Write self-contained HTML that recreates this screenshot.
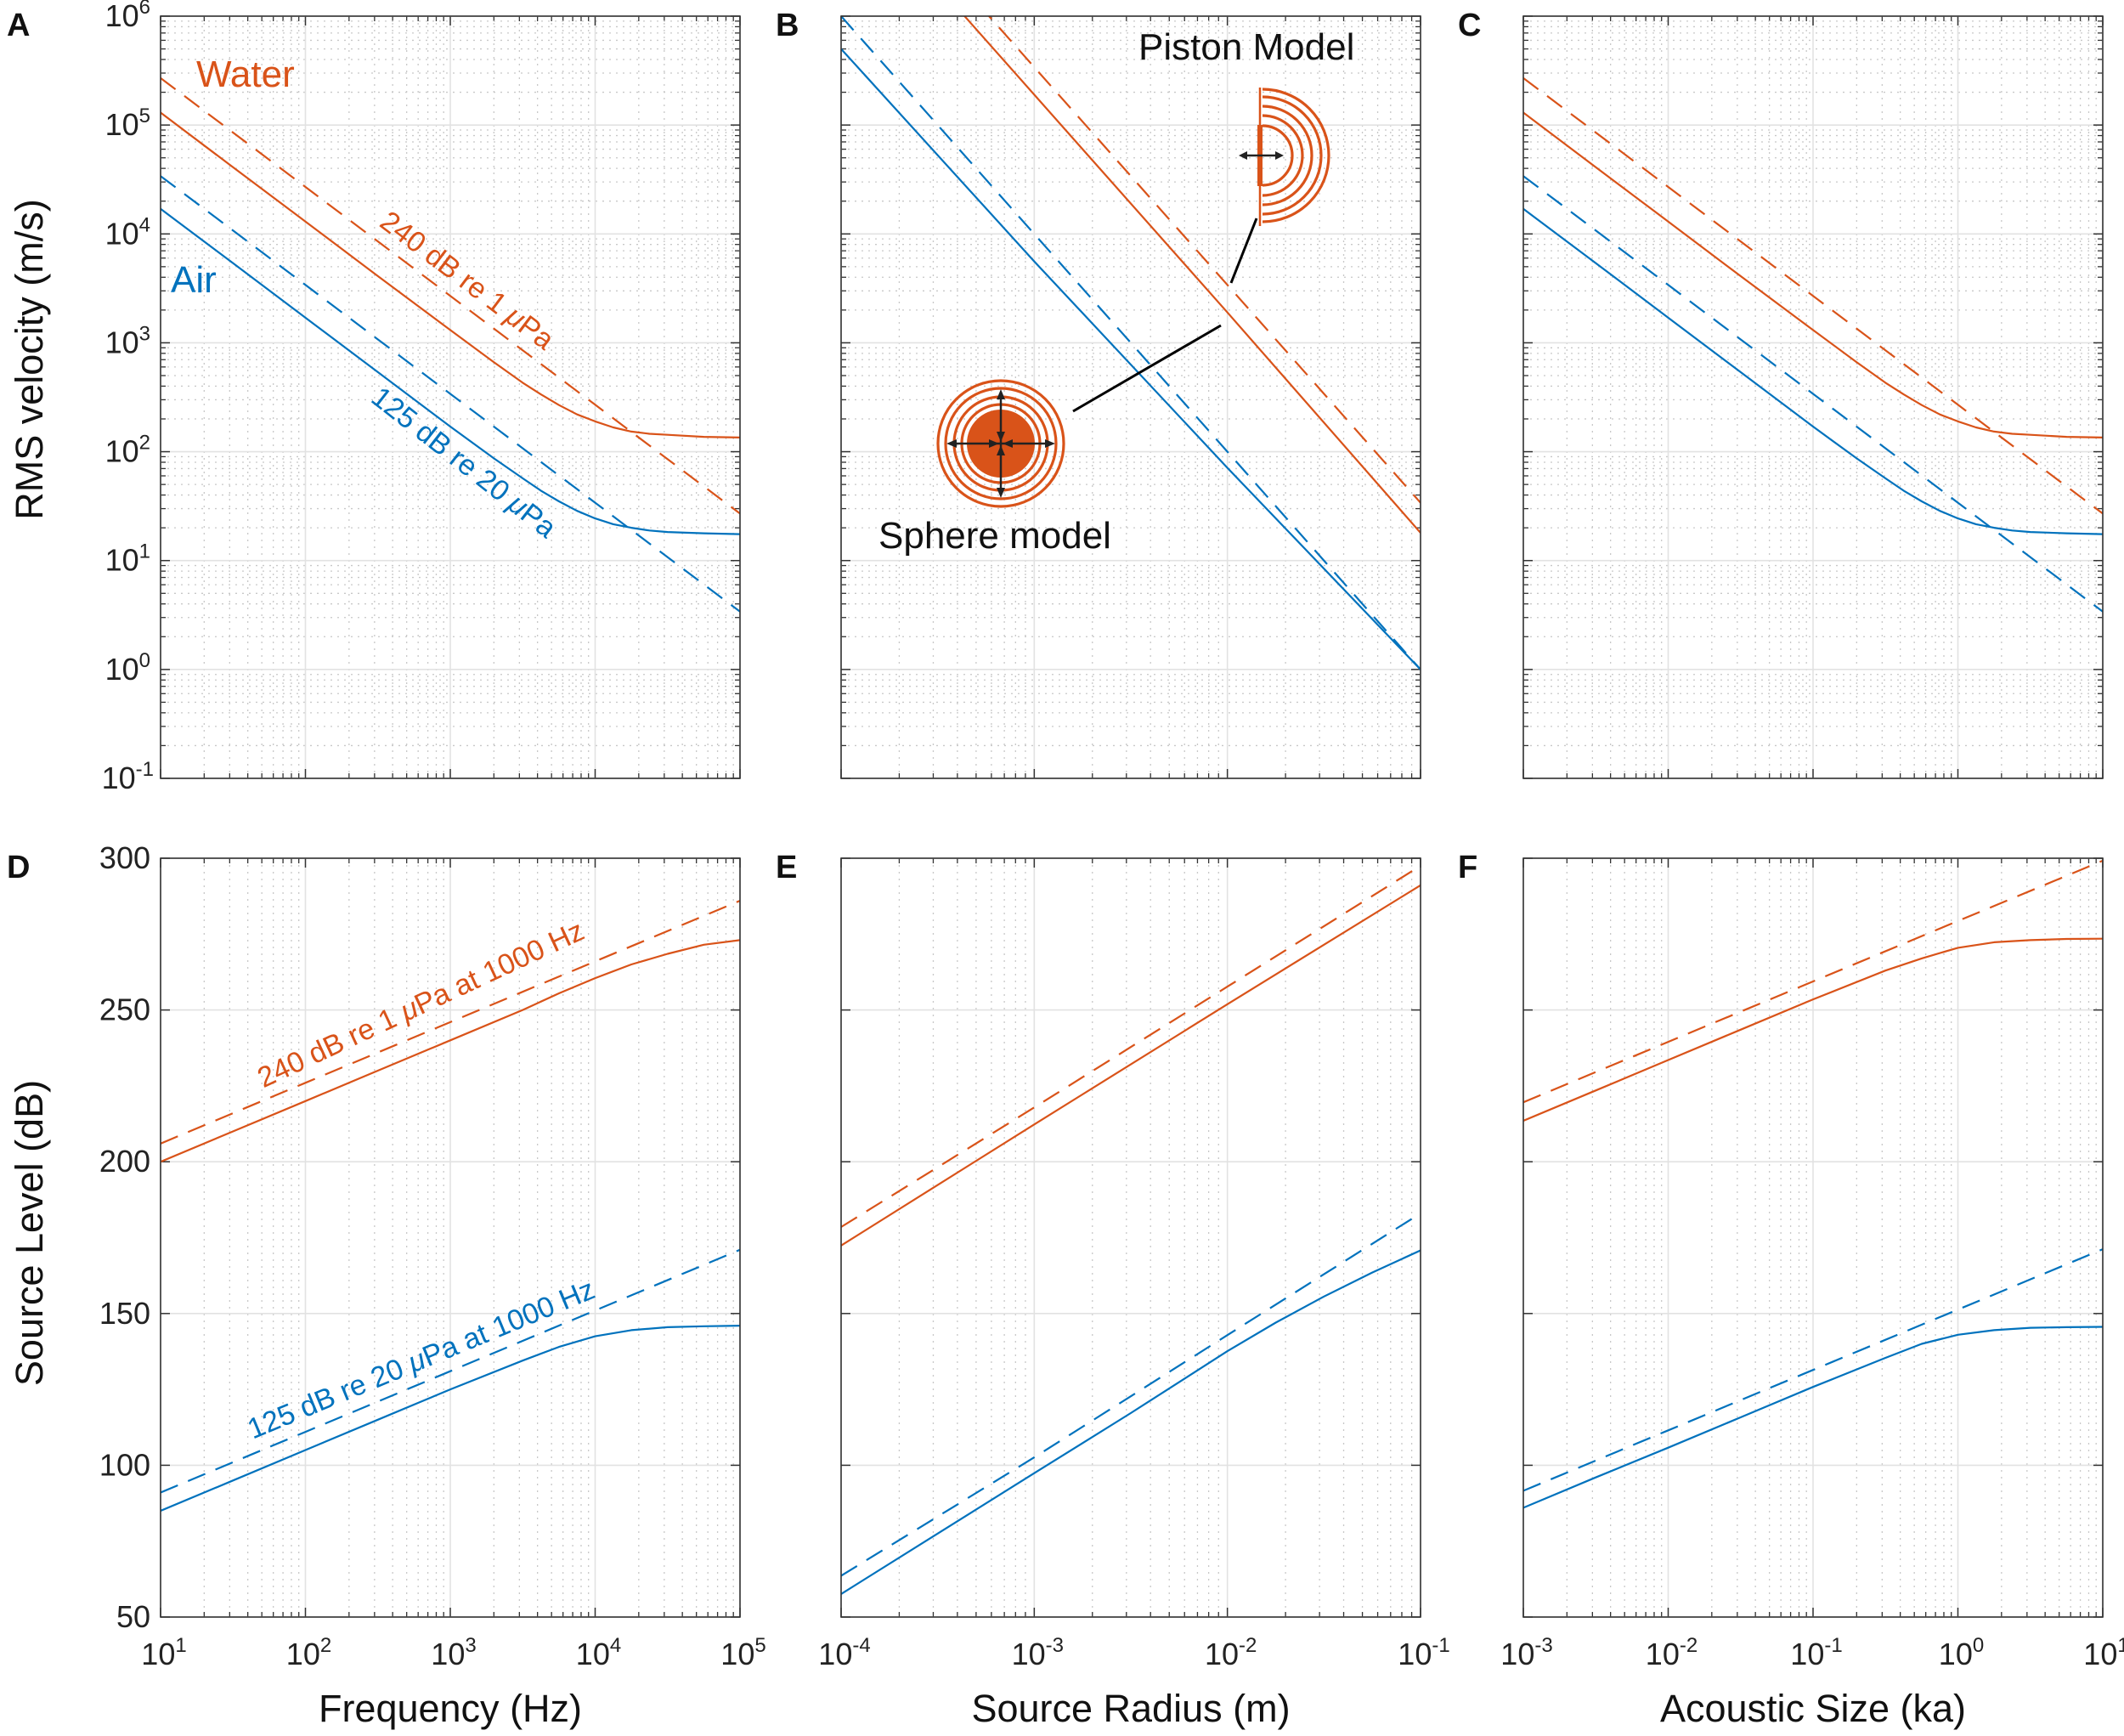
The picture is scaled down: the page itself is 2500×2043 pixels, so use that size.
<!DOCTYPE html>
<html><head><meta charset="utf-8"><style>
html,body{margin:0;padding:0;background:#fff}
svg{display:block;font-family:"Liberation Sans",Arial,sans-serif}
</style></head><body>
<svg id="fig" width="2500" height="2043" viewBox="0 0 2500 2043" xmlns="http://www.w3.org/2000/svg"></svg>
<script>
// ---------- DATA ----------
const freqA = [10,31.6,100,316,1000,2000,3162,4217,5623,7499,10000,13335,17783,23714,31623,56234,100000];
const freqDecA = [10,100,1000,10000,100000];
const waterSolidA = [1.3e5,4.1e4,1.3e4,4.1e3,1.31e3,664,430,336,268,220,190,167,153,146,143,137,135];
const waterDashA = [2.7e5,2.7e4,2.7e3,270,27];
const airSolidA = [1.7e4,5.4e3,1.7e3,538,170,86.8,57,43.9,35,28.6,24.4,21.6,20,18.9,18.3,17.8,17.5];
const airDashA = [3.4e4,3.4e3,340,34,3.4];

const radiusB = [1e-4,1e-3,1e-2,1e-1];
const waterSolidB = [1.9e7,1.9e5,1.9e3,18];
const waterDashB = [3.4e7,3.4e5,3.4e3,34];
const airSolidB = [5e5,5.6e3,71,1.0];
const airDashB = [1e6,1e4,100,1];

const kaC = [1e-3,3.16e-3,1e-2,3.16e-2,0.1,0.2,0.316,0.4217,0.5623,0.7499,1,1.3335,1.7783,2.3714,3.1623,5.6234,10];
const kaDecC = [1e-3,1e-2,1e-1,1,10];
const waterSolidC = [1.3e5,4.1e4,1.3e4,4.1e3,1.31e3,664,430,336,268,220,190,167,153,146,143,137,135];
const waterDashC = [2.7e5,2.7e4,2.7e3,270,27];
const airSolidC = [1.7e4,5.4e3,1.7e3,538,170,86.8,57,43.9,35,28.6,24.4,21.6,20,18.9,18.3,17.8,17.5];
const airDashC = [3.4e4,3.4e3,340,34,3.4];

const freqD = [10,31.6,100,316,1000,3162,5623,10000,17783,31623,56234,100000];
const freqDecD = [10,100,1000,10000,100000];
const waterSolidD = [200,210,220,230,240,250,255.5,260.5,265,268.5,271.5,273];
const waterDashD = [206,226,246,266,286];
const airSolidD = [85,95,105,115,125,134.5,139,142.5,144.5,145.5,145.8,146];
const airDashD = [91,111,131,151,171];

const radiusE = [1e-4,3.16e-4,1e-3,3.16e-3,1e-2,1.78e-2,3.16e-2,5.62e-2,1e-1];
const radiusDecE = [1e-4,1e-3,1e-2,1e-1];
const waterSolidE = [172.4,212.3,251.9,291.1];
const waterDashE = [178.5,217.9,257.7,297.5];
const airSolidE = [57.6,77.5,97.4,117.2,137.6,147,155.6,163.5,170.8];
const airDashE = [63.6,102.6,142.9,183];

const kaF = [1e-3,3.16e-3,1e-2,3.16e-2,0.1,0.316,0.5623,1,1.778,3.16,5.623,10];
const kaDecF = [1e-3,1e-2,1e-1,1,10];
const waterSolidF = [213.5,223.5,233.5,243.5,253.5,263,267,270.5,272.3,273,273.4,273.5];
const waterDashF = [219.6,239.5,259.4,279.3,299.2];
const airSolidF = [86,96,105.8,115.8,125.8,135.4,140,143,144.5,145.3,145.5,145.6];
const airDashF = [91.6,111.5,131.4,151.3,171.2];

const yTicksTop = [-1,0,1,2,3,4,5,6];
const yTicksBottom = [50,100,150,200,250,300];
const xTicksA = [1,2,3,4,5];
const xTicksB = [-4,-3,-2,-1];
const xTicksC = [-3,-2,-1,0,1];

// ---------- DRAWING ----------
const NS = "http://www.w3.org/2000/svg";
const svg = document.getElementById('fig');
const WATER = "#d95319", AIR = "#0072bd";
function mk(tag, attrs, parent){
  const e = document.createElementNS(NS, tag);
  for (const k in attrs) e.setAttribute(k, attrs[k]);
  (parent||svg).appendChild(e);
  return e;
}
const cols = [189, 990, 1793];
const W = 682;
const rows = [{top:19,bot:916},{top:1010,bot:1903}];

function panel(id, col, row, xr, yr, ylog, series, xTicks, yTicks, showY, showX){
  const L = cols[col], R = L + W, T = rows[row].top, B = rows[row].bot;
  const g = mk('g', {});
  
  
  const sx = v => L + (Math.log10(v) - xr[0]) / (xr[1] - xr[0]) * W;
  const sy = ylog ? (v => B - (Math.log10(v) - yr[0]) / (yr[1] - yr[0]) * (B - T))
                  : (v => B - (v - yr[0]) / (yr[1] - yr[0]) * (B - T));
  for (let d = xr[0]; d < xr[1]; d++) for (let m = 2; m <= 9; m++) {
    const x = sx(m * Math.pow(10, d));
    mk('line', {x1:x, x2:x, y1:T, y2:B, stroke:'#c8c8c8', 'stroke-width':1.3, 'stroke-dasharray':'2,6'}, g);
    mk('line', {x1:x, x2:x, y1:B, y2:B-6, stroke:'#333', 'stroke-width':1.3}, g);
    mk('line', {x1:x, x2:x, y1:T, y2:T+6, stroke:'#333', 'stroke-width':1.3}, g);
  }
  if (ylog) for (let d = yr[0]; d < yr[1]; d++) for (let m = 2; m <= 9; m++) {
    const y = sy(m * Math.pow(10, d));
    mk('line', {x1:L, x2:R, y1:y, y2:y, stroke:'#c8c8c8', 'stroke-width':1.3, 'stroke-dasharray':'2,6'}, g);
    mk('line', {x1:L, x2:L+6, y1:y, y2:y, stroke:'#333', 'stroke-width':1.3}, g);
    mk('line', {x1:R, x2:R-6, y1:y, y2:y, stroke:'#333', 'stroke-width':1.3}, g);
  }
  for (let d = Math.ceil(xr[0]); d <= xr[1]; d++) {
    const x = sx(Math.pow(10, d));
    mk('line', {x1:x, x2:x, y1:T, y2:B, stroke:'#e2e2e2', 'stroke-width':1.6}, g);
    mk('line', {x1:x, x2:x, y1:B, y2:B-11, stroke:'#333', 'stroke-width':1.5}, g);
    mk('line', {x1:x, x2:x, y1:T, y2:T+11, stroke:'#333', 'stroke-width':1.5}, g);
  }
  yTicks.forEach(t => {
    const y = ylog ? sy(Math.pow(10, t)) : sy(t);
    mk('line', {x1:L, x2:R, y1:y, y2:y, stroke:'#e2e2e2', 'stroke-width':1.6}, g);
    mk('line', {x1:L, x2:L+11, y1:y, y2:y, stroke:'#333', 'stroke-width':1.5}, g);
    mk('line', {x1:R, x2:R-11, y1:y, y2:y, stroke:'#333', 'stroke-width':1.5}, g);
    if (showY) {
      const tx = mk('text', {x:L-12, y:y+12, 'text-anchor':'end', 'font-size':36, fill:'#222'}, g);
      
      
      if (ylog) {
        tx.appendChild(document.createTextNode('10'));
        const sp = mk('tspan', {dy:-15, 'font-size':24}, tx);
        sp.textContent = String(t);
        if (t < 0) tx.setAttribute('x', L - 8);
      } else tx.textContent = String(t);
    }
  });
  if (showX) xTicks.forEach(t => {
    const x = sx(Math.pow(10, t));
    const tx = mk('text', {x:x+4, y:B+56, 'text-anchor':'middle', 'font-size':36, fill:'#222'}, g);
    
    
    tx.appendChild(document.createTextNode('10'));
    const sp = mk('tspan', {dy:-15, 'font-size':24}, tx);
    sp.textContent = String(t);
  });
  const cp = mk('clipPath', {id:'clip' + id}, g);
  mk('rect', {x:L, y:T, width:W, height:B-T}, cp);
  const sg = mk('g', {'clip-path':'url(#clip' + id + ')'}, g);
  series.forEach(s => {
    const d = s.x.map((xv, i) => (i ? 'L' : 'M') + sx(xv).toFixed(1) + ',' + sy(s.y[i]).toFixed(1)).join(' ');
    const p = mk('path', {d:d, fill:'none', stroke:s.c, 'stroke-width':2.2, 'stroke-linejoin':'round'}, sg);
    if (s.dash) p.setAttribute('stroke-dasharray', '22,13');
    
    
  });
  const box = mk('rect', {x:L, y:T, width:W, height:B-T, fill:'none', stroke:'#333', 'stroke-width':1.6}, g);
  
  
}

panel('A', 0, 0, [1,5], [-1,6], true, [
  {x:freqA, y:waterSolidA, c:WATER, name:'water-sphere-line'},
  {x:freqDecA, y:waterDashA, c:WATER, dash:1, name:'water-piston-line'},
  {x:freqA, y:airSolidA, c:AIR, name:'air-sphere-line'},
  {x:freqDecA, y:airDashA, c:AIR, dash:1, name:'air-piston-line'}], xTicksA, yTicksTop, true, false);
panel('B', 1, 0, [-4,-1], [-1,6], true, [
  {x:radiusB, y:waterSolidB, c:WATER, name:'water-sphere-line'},
  {x:radiusB, y:waterDashB, c:WATER, dash:1, name:'water-piston-line'},
  {x:radiusB, y:airSolidB, c:AIR, name:'air-sphere-line'},
  {x:radiusB, y:airDashB, c:AIR, dash:1, name:'air-piston-line'}], xTicksB, yTicksTop, false, false);
panel('C', 2, 0, [-3,1], [-1,6], true, [
  {x:kaC, y:waterSolidC, c:WATER, name:'water-sphere-line'},
  {x:kaDecC, y:waterDashC, c:WATER, dash:1, name:'water-piston-line'},
  {x:kaC, y:airSolidC, c:AIR, name:'air-sphere-line'},
  {x:kaDecC, y:airDashC, c:AIR, dash:1, name:'air-piston-line'}], xTicksC, yTicksTop, false, false);
panel('D', 0, 1, [1,5], [50,300], false, [
  {x:freqD, y:waterSolidD, c:WATER, name:'water-sphere-line'},
  {x:freqDecD, y:waterDashD, c:WATER, dash:1, name:'water-piston-line'},
  {x:freqD, y:airSolidD, c:AIR, name:'air-sphere-line'},
  {x:freqDecD, y:airDashD, c:AIR, dash:1, name:'air-piston-line'}], xTicksA, yTicksBottom, true, true);
panel('E', 1, 1, [-4,-1], [50,300], false, [
  {x:radiusDecE, y:waterSolidE, c:WATER, name:'water-sphere-line'},
  {x:radiusDecE, y:waterDashE, c:WATER, dash:1, name:'water-piston-line'},
  {x:radiusE, y:airSolidE, c:AIR, name:'air-sphere-line'},
  {x:radiusDecE, y:airDashE, c:AIR, dash:1, name:'air-piston-line'}], xTicksB, yTicksBottom, false, true);
panel('F', 2, 1, [-3,1], [50,300], false, [
  {x:kaF, y:waterSolidF, c:WATER, name:'water-sphere-line'},
  {x:kaDecF, y:waterDashF, c:WATER, dash:1, name:'water-piston-line'},
  {x:kaF, y:airSolidF, c:AIR, name:'air-sphere-line'},
  {x:kaDecF, y:airDashF, c:AIR, dash:1, name:'air-piston-line'}], xTicksC, yTicksBottom, false, true);
</script>
<script>
(function(){
  const NS = "http://www.w3.org/2000/svg";
  const svg = document.getElementById('fig');
  function t(x, y, s, txt, name, opts){
    const e = document.createElementNS(NS, 'text');
    e.setAttribute('x', x); e.setAttribute('y', y);
    e.setAttribute('font-size', s);
    e.setAttribute('fill', (opts && opts.fill) || '#111');
    if (opts && opts.anchor) e.setAttribute('text-anchor', opts.anchor);
    if (opts && opts.weight) e.setAttribute('font-weight', opts.weight);
    if (opts && opts.rot) e.setAttribute('transform', 'rotate(' + opts.rot + ' ' + x + ' ' + y + ')');
    
    
    e.innerHTML = txt;
    svg.appendChild(e);
    return e;
  }
  const W = "#d95319", A = "#0072bd";
  t(8, 42, 38, 'A', 'panel-label-a', {weight:'bold'});
  t(913, 42, 38, 'B', 'panel-label-b', {weight:'bold'});
  t(1716, 42, 38, 'C', 'panel-label-c', {weight:'bold'});
  t(8, 1033, 38, 'D', 'panel-label-d', {weight:'bold'});
  t(913, 1033, 38, 'E', 'panel-label-e', {weight:'bold'});
  t(1716, 1033, 38, 'F', 'panel-label-f', {weight:'bold'});
  t(50, 423, 45, 'RMS velocity (m/s)', 'y-axis-title-velocity', {anchor:'middle', rot:-90});
  t(50, 1451, 45, 'Source Level (dB)', 'y-axis-title-source-level', {anchor:'middle', rot:-90});
  t(530, 2026, 45, 'Frequency (Hz)', 'x-axis-title-frequency', {anchor:'middle'});
  t(1331, 2026, 45, 'Source Radius (m)', 'x-axis-title-radius', {anchor:'middle'});
  t(2134, 2026, 45, 'Acoustic Size (ka)', 'x-axis-title-ka', {anchor:'middle'});
  t(231, 102, 44, 'Water', 'water-label', {fill:W});
  t(201, 344, 44, 'Air', 'air-label', {fill:A});
  t(543, 339, 34, '240 dB re 1 <tspan font-style="italic">μ</tspan>Pa', 'water-level-label', {fill:W, anchor:'middle', rot:37});
  t(539, 553, 34, '125 dB re 20 <tspan font-style="italic">μ</tspan>Pa', 'air-level-label', {fill:A, anchor:'middle', rot:38});
  t(500, 1192, 34, '240 dB re 1 <tspan font-style="italic">μ</tspan>Pa at 1000 Hz', 'water-level-label-d', {fill:W, anchor:'middle', rot:-25});
  t(500, 1610, 34, '125 dB re 20 <tspan font-style="italic">μ</tspan>Pa at 1000 Hz', 'air-level-label-d', {fill:A, anchor:'middle', rot:-22.5});
  t(1340, 70, 44, 'Piston Model', 'piston-model-label');
  t(1034, 645, 44, 'Sphere model', 'sphere-model-label');

  const g = document.createElementNS(NS, 'g');
  
  
  let h = '';
  const px = 1483, py = 183;
  [35, 47, 58, 69, 78].forEach(r => {
    h += `<path d="M${px+3},${py-r} A${r},${r} 0 0 1 ${px+3},${py+r}" fill="none" stroke="${W}" stroke-width="3.2"/>`;
  });
  h += `<line x1="${px}" y1="103" x2="${px}" y2="266" stroke="${W}" stroke-width="2.5"/>`;
  h += `<line x1="${px}" y1="147" x2="${px}" y2="219" stroke="${W}" stroke-width="6"/>`;
  h += `<line x1="1462" y1="${py}" x2="1506" y2="${py}" stroke="#222" stroke-width="2.5"/>`;
  h += `<path d="M1458,${py} l10,-5 v10z M1511,${py} l-10,-5 v10z" fill="#222"/>`;
  h += `<line x1="1479" y1="257" x2="1449" y2="333" stroke="#000" stroke-width="3"/>`;
  const cx = 1178, cy = 522;
  h += `<circle cx="${cx}" cy="${cy}" r="40" fill="${W}"/>`;
  [46, 55, 65, 74].forEach(r => { h += `<circle cx="${cx}" cy="${cy}" r="${r}" fill="none" stroke="${W}" stroke-width="3.2"/>`; });
  h += `<line x1="${cx}" y1="462" x2="${cx}" y2="582" stroke="#222" stroke-width="2.5"/>`;
  h += `<line x1="1118" y1="${cy}" x2="1238" y2="${cy}" stroke="#222" stroke-width="2.5"/>`;
  h += `<path d="M${cx},458 l-5,12 h10z M${cx},586 l-5,-12 h10z M1114,${cy} l12,-5 v10z M1242,${cy} l-12,-5 v10z M${cx},${cy-2} l-5,-12 h10z M${cx},${cy+2} l-5,12 h10z M${cx-2},${cy} l-12,-5 v10z M${cx+2},${cy} l12,-5 v10z" fill="#222"/>`;
  h += `<line x1="1263" y1="484" x2="1437" y2="383" stroke="#000" stroke-width="3"/>`;
  g.innerHTML = h;
  svg.appendChild(g);
})();
</script>
</body></html>
